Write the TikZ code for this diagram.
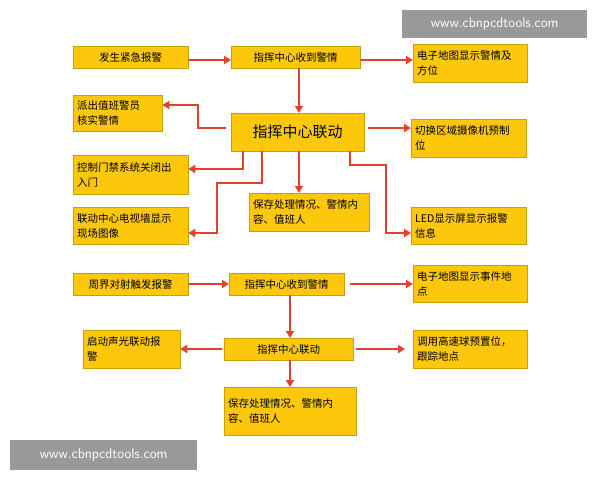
\documentclass[tikz,border=0pt]{standalone}
\usepackage{fontspec}
\setmainfont{Noto Sans CJK SC}
\usetikzlibrary{arrows.meta}
\definecolor{by}{HTML}{FDC80C}
\definecolor{ar}{HTML}{E2412B}
\tikzset{
 box/.style={fill=by,draw=by!80!black,line width=0.3pt,anchor=north west,inner sep=4pt,font=\fontsize{10.5}{15}\selectfont,align=left},
 arr/.style={draw=ar,line width=2.2pt,-{Triangle[length=7pt,width=8pt]}},
 wm/.style={fill=black!40,text=white,font=\fontsize{14}{16}\selectfont\sffamily,anchor=north west,inner sep=0pt}
}
\newcommand{\bx}[7]{\node[box,minimum width=#4-#2,minimum height=#5-#3,text width=#4-#2-8pt,#6] (#1) at (#2,#3) {#7};}
\begin{document}
\begin{tikzpicture}[x=1pt,y=-1pt]
\useasboundingbox (0,0) rectangle (600,480);
\fill[white] (0,0) rectangle (600,480);
\bx{a1}{73}{46}{188}{68}{align=center}{发生紧急报警}
\bx{a2}{231}{46}{360}{68}{align=center}{指挥中心收到警情}
\bx{a3}{413}{44}{527}{82}{}{电子地图显示警情及\\方位}
\bx{b1}{73}{95}{162}{131}{}{派出值班警员\\核实警情}
\bx{c}{231}{113}{364}{151}{align=center,font=\fontsize{15}{17}\selectfont}{指挥中心联动}
\bx{b3}{411}{119}{526}{157}{}{切换区域摄像机预制\\位}
\bx{c1}{73}{155}{188}{194}{}{控制门禁系统关闭出\\入门}
\bx{d1}{73}{207}{188}{244}{}{联动中心电视墙显示\\现场图像}
\bx{d2}{249}{193}{369}{231}{}{保存处理情况、警情内\\容、值班人}
\bx{d3}{411}{207}{526}{244}{}{LED显示屏显示报警\\信息}
\draw[arr] (a1.east|-0,60) -- (a2.west|-0,60);
\draw[arr] (a2.east|-0,60) -- (a3.west|-0,60);
\draw[arr] (a2.south-|299,0) -- (c.north-|299,0);
\draw[arr] (226,128) -- (198,128) -- (198,105) -- (b1.east|-0,105);
\draw[arr] (c.east|-0,128) ++(4,0) -- (b3.west|-0,128);
\draw[arr] (c.south-|243,0) -- (243,169) -- (c1.east|-0,169);
\draw[arr] (c.south-|262,0) -- (262,183) -- (217,183) -- (217,233) -- (d1.east|-0,233);
\draw[arr] (c.south-|299,0) -- (d2.north-|299,0);
\draw[arr] (c.south-|350,0) -- (350,165) -- (386,165) -- (386,233) -- (d3.west|-0,233);
\bx{e1}{73}{273}{188}{295}{align=center}{周界对射触发报警}
\bx{e2}{229}{273}{344}{295}{align=center}{指挥中心收到警情}
\bx{e3}{413}{265}{527}{302}{}{电子地图显示事件地\\点}
\bx{f1}{83}{330}{180}{368}{}{启动声光联动报\\警}
\bx{f2}{224}{338}{353}{360}{align=center}{指挥中心联动}
\bx{f3}{413}{330}{527}{368}{}{调用高速球预置位，\\跟踪地点}
\bx{f4}{224}{387}{356}{435}{}{保存处理情况、警情内\\容、值班人}
\draw[arr] (e1.east|-0,284) -- (e2.west|-0,284);
\draw[arr] (e2.east|-0,284) ++(6,0) -- (e3.west|-0,284);
\draw[arr] (e2.south-|290,0) -- (f2.north-|290,0);
\draw[arr] (f2.west|-0,349) ++(-2,0) -- (f1.east|-0,349);
\draw[arr] (f2.east|-0,349) ++(3,0) -- (405,349);
\draw[arr] (f2.south-|290,0) -- (f4.north-|290,0);
\node[wm,minimum width=185,minimum height=28,align=center] (w1) at (402,10) {www.cbnpcdtools.com};
\node[wm,minimum width=187,minimum height=30,align=center] (w2) at (10,440) {www.cbnpcdtools.com};
\end{tikzpicture}
\end{document}
